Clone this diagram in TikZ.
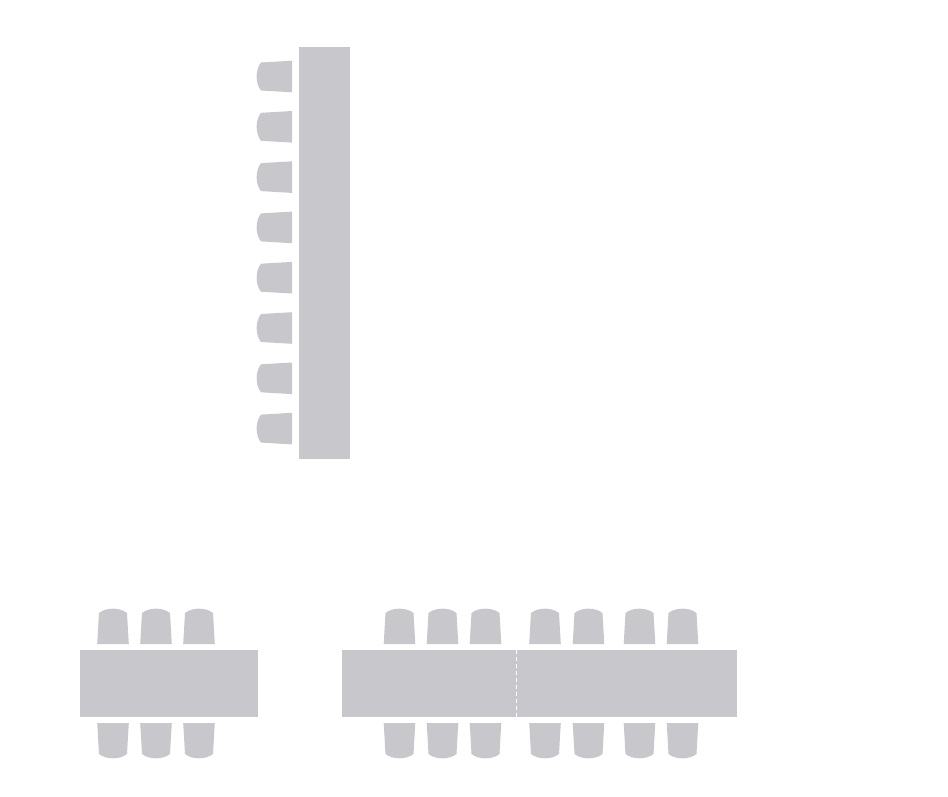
\documentclass[tikz,border=0pt]{standalone}
\definecolor{furn}{RGB}{200,199,204}
\tikzset{
  furniture/.style={fill=furn,draw=none},
  chair/.pic={\path[furniture] (-15.8,0) -- (-14,-31) .. controls (-7,-36.8) and (7,-36.8) .. (14,-31) -- (15.8,0) -- cycle;}
}
\begin{document}
\begin{tikzpicture}[x=1pt,y=-1pt]
\useasboundingbox (0,0) rectangle (948,796);
% vertical table
\path[furniture] (299,47) rectangle (350,459);
\foreach \c in {76.5,126.8,177.1,227.4,277.7,328,378.3,428.6}
  \pic[rotate=90] at (292,\c) {chair};
% small table
\path[furniture] (80,650) rectangle (258,717);
\foreach \c in {113,156,199}{
  \pic at (\c,644) {chair};
  \pic[rotate=180] at (\c,723) {chair};
}
% long table
\path[furniture] (342,650) rectangle (737,717);
\draw[white,line width=1pt,dash pattern=on 4pt off 3pt] (516,650) -- (516,717);
\foreach \c in {399.5,442.5,485.5,545,588.5,639.5,682.5}{
  \pic at (\c,644) {chair};
  \pic[rotate=180] at (\c,723) {chair};
}
\end{tikzpicture}
\end{document}
